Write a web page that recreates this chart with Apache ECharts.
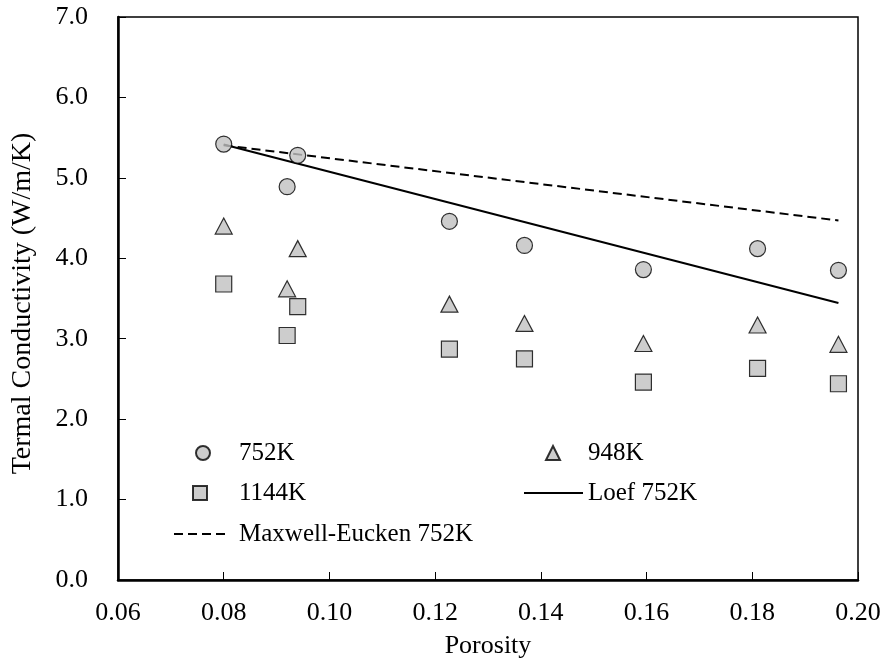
<!DOCTYPE html>
<html>
<head>
<meta charset="utf-8">
<script src="https://cdn.jsdelivr.net/npm/echarts@6/dist/echarts.min.js"></script>
<style>
html,body{margin:0;padding:0;background:#fff;}
#chart{width:880px;height:663px;}
</style>
</head>
<body>
<div id="chart"></div>
<script>
// Porosity values (x)
var porosity = [0.080, 0.092, 0.094, 0.1227, 0.1369, 0.1594, 0.181, 0.1963];
// Measured thermal conductivity (W/m/K)
var k752 = [5.42, 4.89, 5.28, 4.46, 4.16, 3.86, 4.12, 3.85];
var k948 = [4.40, 3.62, 4.12, 3.43, 3.19, 2.94, 3.17, 2.93];
var k1144 = [3.68, 3.04, 3.40, 2.87, 2.75, 2.46, 2.63, 2.44];
// Model lines (endpoints)
var modelX = [0.080, 0.1963];
var loef752 = [5.415, 3.445];
var maxwell752 = [5.405, 4.47];
var xTicks = [0.06, 0.08, 0.10, 0.12, 0.14, 0.16, 0.18, 0.20];
var yTicks = [0, 1, 2, 3, 4, 5, 6, 7];

function pairs(xs, ys) { return xs.map(function (x, i) { return [x, ys[i]]; }); }

var FONT = '"Liberation Serif", "Times New Roman", serif';
var markerStyle = { color: '#c0c0c0', borderColor: '#000', borderWidth: 1.2 };

function markerLegend(name, cx, cy, textX) {
  var size = 14;
  return {
    data: [name], orient: 'vertical', left: cx - size / 2, top: cy - 15, padding: 0,
    itemWidth: size, itemHeight: size, selectedMode: false,
    textStyle: { fontFamily: FONT, fontSize: 25, color: '#000', lineHeight: 30,
      padding: [0, 0, 0, textX - (cx + size / 2) - 5] }
  };
}
function lineLegend(name, x0, x1, cy, textX) {
  return {
    data: [{ name: name, itemStyle: { opacity: 0 } }], orient: 'vertical', left: x0, top: cy - 15, padding: 0,
    itemWidth: x1 - x0, itemHeight: 14, selectedMode: false,
    textStyle: { fontFamily: FONT, fontSize: 25, color: '#000', lineHeight: 30, padding: [0, 0, 0, textX - x1 - 5] }
  };
}

var chart = echarts.init(document.getElementById('chart'), null, { renderer: 'canvas' });
chart.setOption({
  backgroundColor: '#fff',
  animation: false,
  textStyle: { fontFamily: FONT, color: '#000' },
  grid: { left: 118, right: 22, top: 17, bottom: 83, containLabel: false, outerBoundsMode: 'none',
    show: true, borderColor: '#000', borderWidth: 1.5, backgroundColor: 'transparent' },
  xAxis: {
    type: 'value', min: xTicks[0], max: xTicks[xTicks.length - 1], interval: 0.02,
    name: 'Porosity', nameLocation: 'middle', nameGap: 53,
    nameTextStyle: { fontFamily: FONT, fontSize: 26, color: '#000' },
    axisLine: { show: true, onZero: false, lineStyle: { color: '#000', width: 2.5 } },
    axisTick: { show: true, inside: true, length: 8, lineStyle: { color: '#000', width: 1 } },
    axisLabel: { margin: 20, fontFamily: FONT, fontSize: 26, color: '#000', formatter: function (v) { return v.toFixed(2); } },
    splitLine: { show: false }
  },
  yAxis: {
    type: 'value', min: yTicks[0], max: yTicks[yTicks.length - 1], interval: 1,
    name: 'Termal Conductivity (W/m/K)', nameLocation: 'middle', nameGap: 81,
    nameTextStyle: { fontFamily: FONT, fontSize: 28, color: '#000', padding: [0, 10, 0, 0] },
    axisLine: { show: true, onZero: false, lineStyle: { color: '#000', width: 2.5 } },
    axisTick: { show: true, inside: true, length: 8, lineStyle: { color: '#000', width: 1 } },
    axisLabel: { margin: 30, fontFamily: FONT, fontSize: 26, color: '#000', formatter: function (v) { return v.toFixed(1); } },
    splitLine: { show: false }
  },
  legend: [
    markerLegend('752K', 202, 453, 238),
    markerLegend('1144K', 199, 493, 238),
    lineLegend('Maxwell-Eucken 752K', 173, 227, 534, 238),
    markerLegend('948K', 552, 453, 587),
    lineLegend('Loef 752K', 523, 582, 493, 587)
  ],
  series: [
    {
      name: 'Maxwell-Eucken 752K', type: 'line', data: pairs(modelX, maxwell752),
      symbol: 'none', z: 2, color: '#000',
      lineStyle: { color: '#000', width: 2, type: [9, 5] }
    },
    {
      name: 'Loef 752K', type: 'line', data: pairs(modelX, loef752),
      symbol: 'none', z: 2, color: '#000',
      lineStyle: { color: '#000', width: 2, type: 'solid' }
    },
    {
      name: '752K', type: 'scatter', data: pairs(porosity, k752),
      symbol: 'circle', symbolSize: 16, z: 5, itemStyle: markerStyle
    },
    {
      name: '948K', type: 'scatter', data: pairs(porosity, k948),
      symbol: 'triangle', symbolSize: [17, 16], z: 5, itemStyle: markerStyle
    },
    {
      name: '1144K', type: 'scatter', data: pairs(porosity, k1144),
      symbol: 'rect', symbolSize: 16, z: 5, itemStyle: markerStyle
    }
  ]
});
</script>
</body>
</html>
